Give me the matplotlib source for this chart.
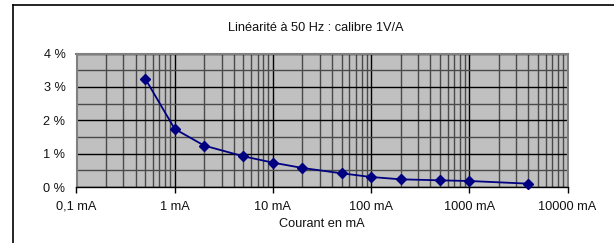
import matplotlib
matplotlib.use("Agg")
import matplotlib.pyplot as plt
from matplotlib.ticker import FixedLocator, NullFormatter, LogLocator
import matplotlib.lines as mlines

current_mA = [0.5, 1, 2, 5, 10, 20, 50, 100, 200, 500, 1000, 4000]
error_pct = [3.25, 1.74, 1.24, 0.92, 0.73, 0.57, 0.41, 0.30, 0.23, 0.20, 0.18, 0.10]
x_ticks = [0.1, 1, 10, 100, 1000, 10000]
x_ticklabels = ["0,1 mA", "1 mA", "10 mA", "100 mA", "1000 mA", "10000 mA"]
y_ticks = [0, 1, 2, 3, 4]
y_ticklabels = ["0 %", "1 %", "2 %", "3 %", "4 %"]
title = "Linéarité à 50 Hz : calibre 1V/A"
xlabel = "Courant en mA"

plt.rcParams['font.family'] = ['Liberation Sans', 'DejaVu Sans']
W, H = 614, 243
fig = plt.figure(figsize=(W / 100, H / 100), dpi=100)
fig.patch.set_facecolor("white")

# plot area in pixels
l, r, t, b = 76.5, 567.5, 53.5, 187
ax = fig.add_axes([l / W, 1 - b / H, (r - l) / W, (b - t) / H])
ax.set_facecolor("#C0C0C0")
ax.set_xscale("log")
ax.set_xlim(0.1, 10000)
ax.set_ylim(0, 4)

ax.xaxis.set_major_locator(FixedLocator(x_ticks))
ax.xaxis.set_minor_locator(LogLocator(base=10, subs=range(2, 10), numticks=20))
ax.xaxis.set_minor_formatter(NullFormatter())
ax.set_yticks(y_ticks)
ax.set_yticks([0.5, 1.5, 2.5, 3.5], minor=True)
ax.grid(True, which="major", color="black", linewidth=1.0)
ax.grid(True, which="minor", color="#4a4a4a", linewidth=1.0)
ax.set_axisbelow(True)

ax.plot(current_mA, error_pct, color="#000080", linewidth=1.3, marker="D",
        markersize=5, markerfacecolor="#000080", markeredgecolor="#000080", zorder=5,
        clip_on=False)

fs = 9.2
ax.set_xticklabels(x_ticklabels, fontsize=fs, color="#111111")
ax.set_yticklabels(y_ticklabels, fontsize=fs, color="#111111")
ax.tick_params(axis="x", which="major", direction="out", length=4, width=1, color="black", pad=6)
ax.tick_params(axis="x", which="minor", length=0)
ax.tick_params(axis="y", which="both", length=0, pad=8)

for s in ["top", "right", "left"]:
    ax.spines[s].set_color("#808080")
    ax.spines[s].set_linewidth(1.5)
ax.spines["bottom"].set_color("black")
ax.spines["bottom"].set_linewidth(1.0)

fig.text(316 / W, 1 - 28 / H, title, ha="center", va="center", fontsize=fs, color="#111111")
fig.text(322 / W, 1 - 224 / H, xlabel, ha="center", va="center", fontsize=fs, color="#111111")

# outer chart frame (only top and left visible)
fig.add_artist(mlines.Line2D([12.5 / W, 12.5 / W], [0, 1 - 5.5 / H], transform=fig.transFigure,
                             color="black", linewidth=1.2))
fig.add_artist(mlines.Line2D([12.5 / W, 1], [1 - 5.5 / H, 1 - 5.5 / H], transform=fig.transFigure,
                             color="black", linewidth=1.2))

fig.savefig("out.png", dpi=100)
